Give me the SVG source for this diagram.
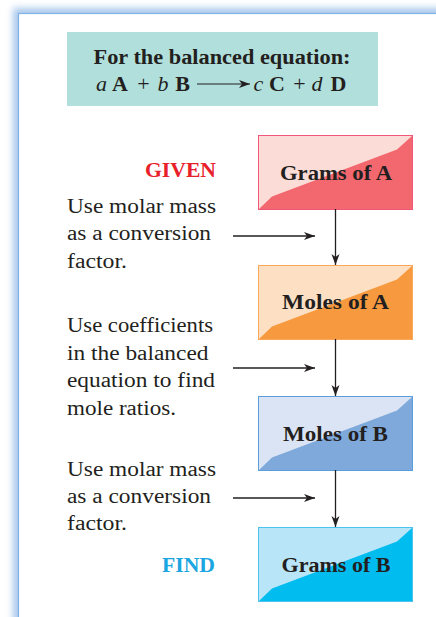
<svg xmlns="http://www.w3.org/2000/svg" width="436" height="617" viewBox="0 0 436 617">
<defs>
<filter id="blur" x="-10%" y="-10%" width="120%" height="120%"><feGaussianBlur stdDeviation="3.5"/></filter>
<marker id="ah" markerWidth="12" markerHeight="10" refX="11" refY="4" orient="auto" markerUnits="userSpaceOnUse">
<path d="M0,0 L11,4 L0,8 L3,4 Z" fill="#231f20"/>
</marker>
<style>
.t{font-family:"Liberation Serif","Times New Roman",serif;font-size:20px;fill:#231f20}
.eq{font-family:"Liberation Serif","Times New Roman",serif;font-size:22px;fill:#231f20;text-anchor:middle}
.b{font-weight:bold}
.i{font-style:italic}
.lbl{font-family:"Liberation Serif","Times New Roman",serif;font-size:20px;font-weight:bold;fill:#231f20;text-anchor:middle}
.con{stroke:#231f20;stroke-width:1.3;fill:none;marker-end:url(#ah)}
</style>
</defs>
<rect width="436" height="617" fill="#ffffff"/>
<g id="frame">
<rect x="13" y="8" width="440" height="630" fill="#a8c8ec" filter="url(#blur)"/>
<rect x="18.5" y="13.5" width="430" height="620" fill="#ffffff" stroke="#80b3e6" stroke-width="1.2"/>
</g>
<g id="equation">
<rect x="67" y="32" width="311" height="74" fill="#b1dfdc"/>
<text class="t b" x="222" y="64" text-anchor="middle" textLength="257" lengthAdjust="spacingAndGlyphs">For the balanced equation:</text>
<text class="eq i" x="101.5" y="91">a</text>
<text class="eq b" x="120" y="91">A</text>
<text class="eq" x="143.5" y="91">+</text>
<text class="eq i" x="163" y="91">b</text>
<text class="eq b" x="182.5" y="91">B</text>
<line x1="197" y1="84" x2="250" y2="84" stroke="#231f20" stroke-width="1.2" marker-end="url(#ah)"/>
<text class="eq i" x="258.5" y="91">c</text>
<text class="eq b" x="277" y="91">C</text>
<text class="eq" x="299.5" y="91">+</text>
<text class="eq i" x="317" y="91">d</text>
<text class="eq b" x="338.5" y="91">D</text>
</g>
<g id="grams-a">
<rect x="258.5" y="135.5" width="154" height="74" fill="#fcdcd7" stroke="#f0577a" stroke-width="1"/>
<polygon points="259,209 272,196.5 397,149.5 412,136 412,209" fill="#f2686e"/>
<text class="lbl" x="336" y="180" textLength="112" lengthAdjust="spacingAndGlyphs">Grams of A</text>
</g>
<g id="moles-a">
<rect x="258.5" y="265.5" width="154" height="74" fill="#fde0c4" stroke="#f9a85a" stroke-width="1"/>
<polygon points="259,339 272,326.5 397,279.5 412,266 412,339" fill="#f7993e"/>
<text class="lbl" x="335.5" y="309" textLength="107" lengthAdjust="spacingAndGlyphs">Moles of A</text>
</g>
<g id="moles-b">
<rect x="258.5" y="396.5" width="154" height="74" fill="#dbe4f5" stroke="#5a9fdc" stroke-width="1"/>
<polygon points="259,470 272,457.5 397,410.5 412,397 412,470" fill="#7ea9da"/>
<text class="lbl" x="335.5" y="441" textLength="105" lengthAdjust="spacingAndGlyphs">Moles of B</text>
</g>
<g id="grams-b">
<rect x="258.5" y="527.5" width="154" height="74" fill="#b9e5f8" stroke="#4cc3ef" stroke-width="1"/>
<polygon points="259,601 272,588.5 397,541.5 412,528 412,601" fill="#00bcef"/>
<text class="lbl" x="336" y="572" textLength="109" lengthAdjust="spacingAndGlyphs">Grams of B</text>
</g>
<g id="given">
<text class="t b" x="216" y="177" text-anchor="end" style="fill:#e8202a" textLength="71" lengthAdjust="spacingAndGlyphs">GIVEN</text>
</g>
<g id="find">
<text class="t b" x="215" y="572" text-anchor="end" style="fill:#1aa6e0" textLength="53" lengthAdjust="spacingAndGlyphs">FIND</text>
</g>
<g id="note-1">
<text class="t" x="67" y="213" textLength="149" lengthAdjust="spacingAndGlyphs">Use molar mass</text>
<text class="t" x="67" y="240" textLength="144" lengthAdjust="spacingAndGlyphs">as a conversion</text>
<text class="t" x="67" y="268" textLength="60" lengthAdjust="spacingAndGlyphs">factor.</text>
</g>
<g id="note-2">
<text class="t" x="67" y="332" textLength="146" lengthAdjust="spacingAndGlyphs">Use coefficients</text>
<text class="t" x="67" y="360" textLength="141.5" lengthAdjust="spacingAndGlyphs">in the balanced</text>
<text class="t" x="67" y="387" textLength="148" lengthAdjust="spacingAndGlyphs">equation to find</text>
<text class="t" x="67" y="415" textLength="109" lengthAdjust="spacingAndGlyphs">mole ratios.</text>
</g>
<g id="note-3">
<text class="t" x="67" y="476" textLength="149" lengthAdjust="spacingAndGlyphs">Use molar mass</text>
<text class="t" x="67" y="503" textLength="144" lengthAdjust="spacingAndGlyphs">as a conversion</text>
<text class="t" x="67" y="530" textLength="60" lengthAdjust="spacingAndGlyphs">factor.</text>
</g>
<g id="connectors">
<line class="con" x1="335.5" y1="209" x2="335.5" y2="265"/>
<line class="con" x1="335.5" y1="339" x2="335.5" y2="396"/>
<line class="con" x1="335.5" y1="470" x2="335.5" y2="527"/>
<line class="con" x1="233" y1="236" x2="315" y2="236"/>
<line class="con" x1="233" y1="368" x2="315" y2="368"/>
<line class="con" x1="233" y1="498" x2="315" y2="498"/>
</g>
</svg>
